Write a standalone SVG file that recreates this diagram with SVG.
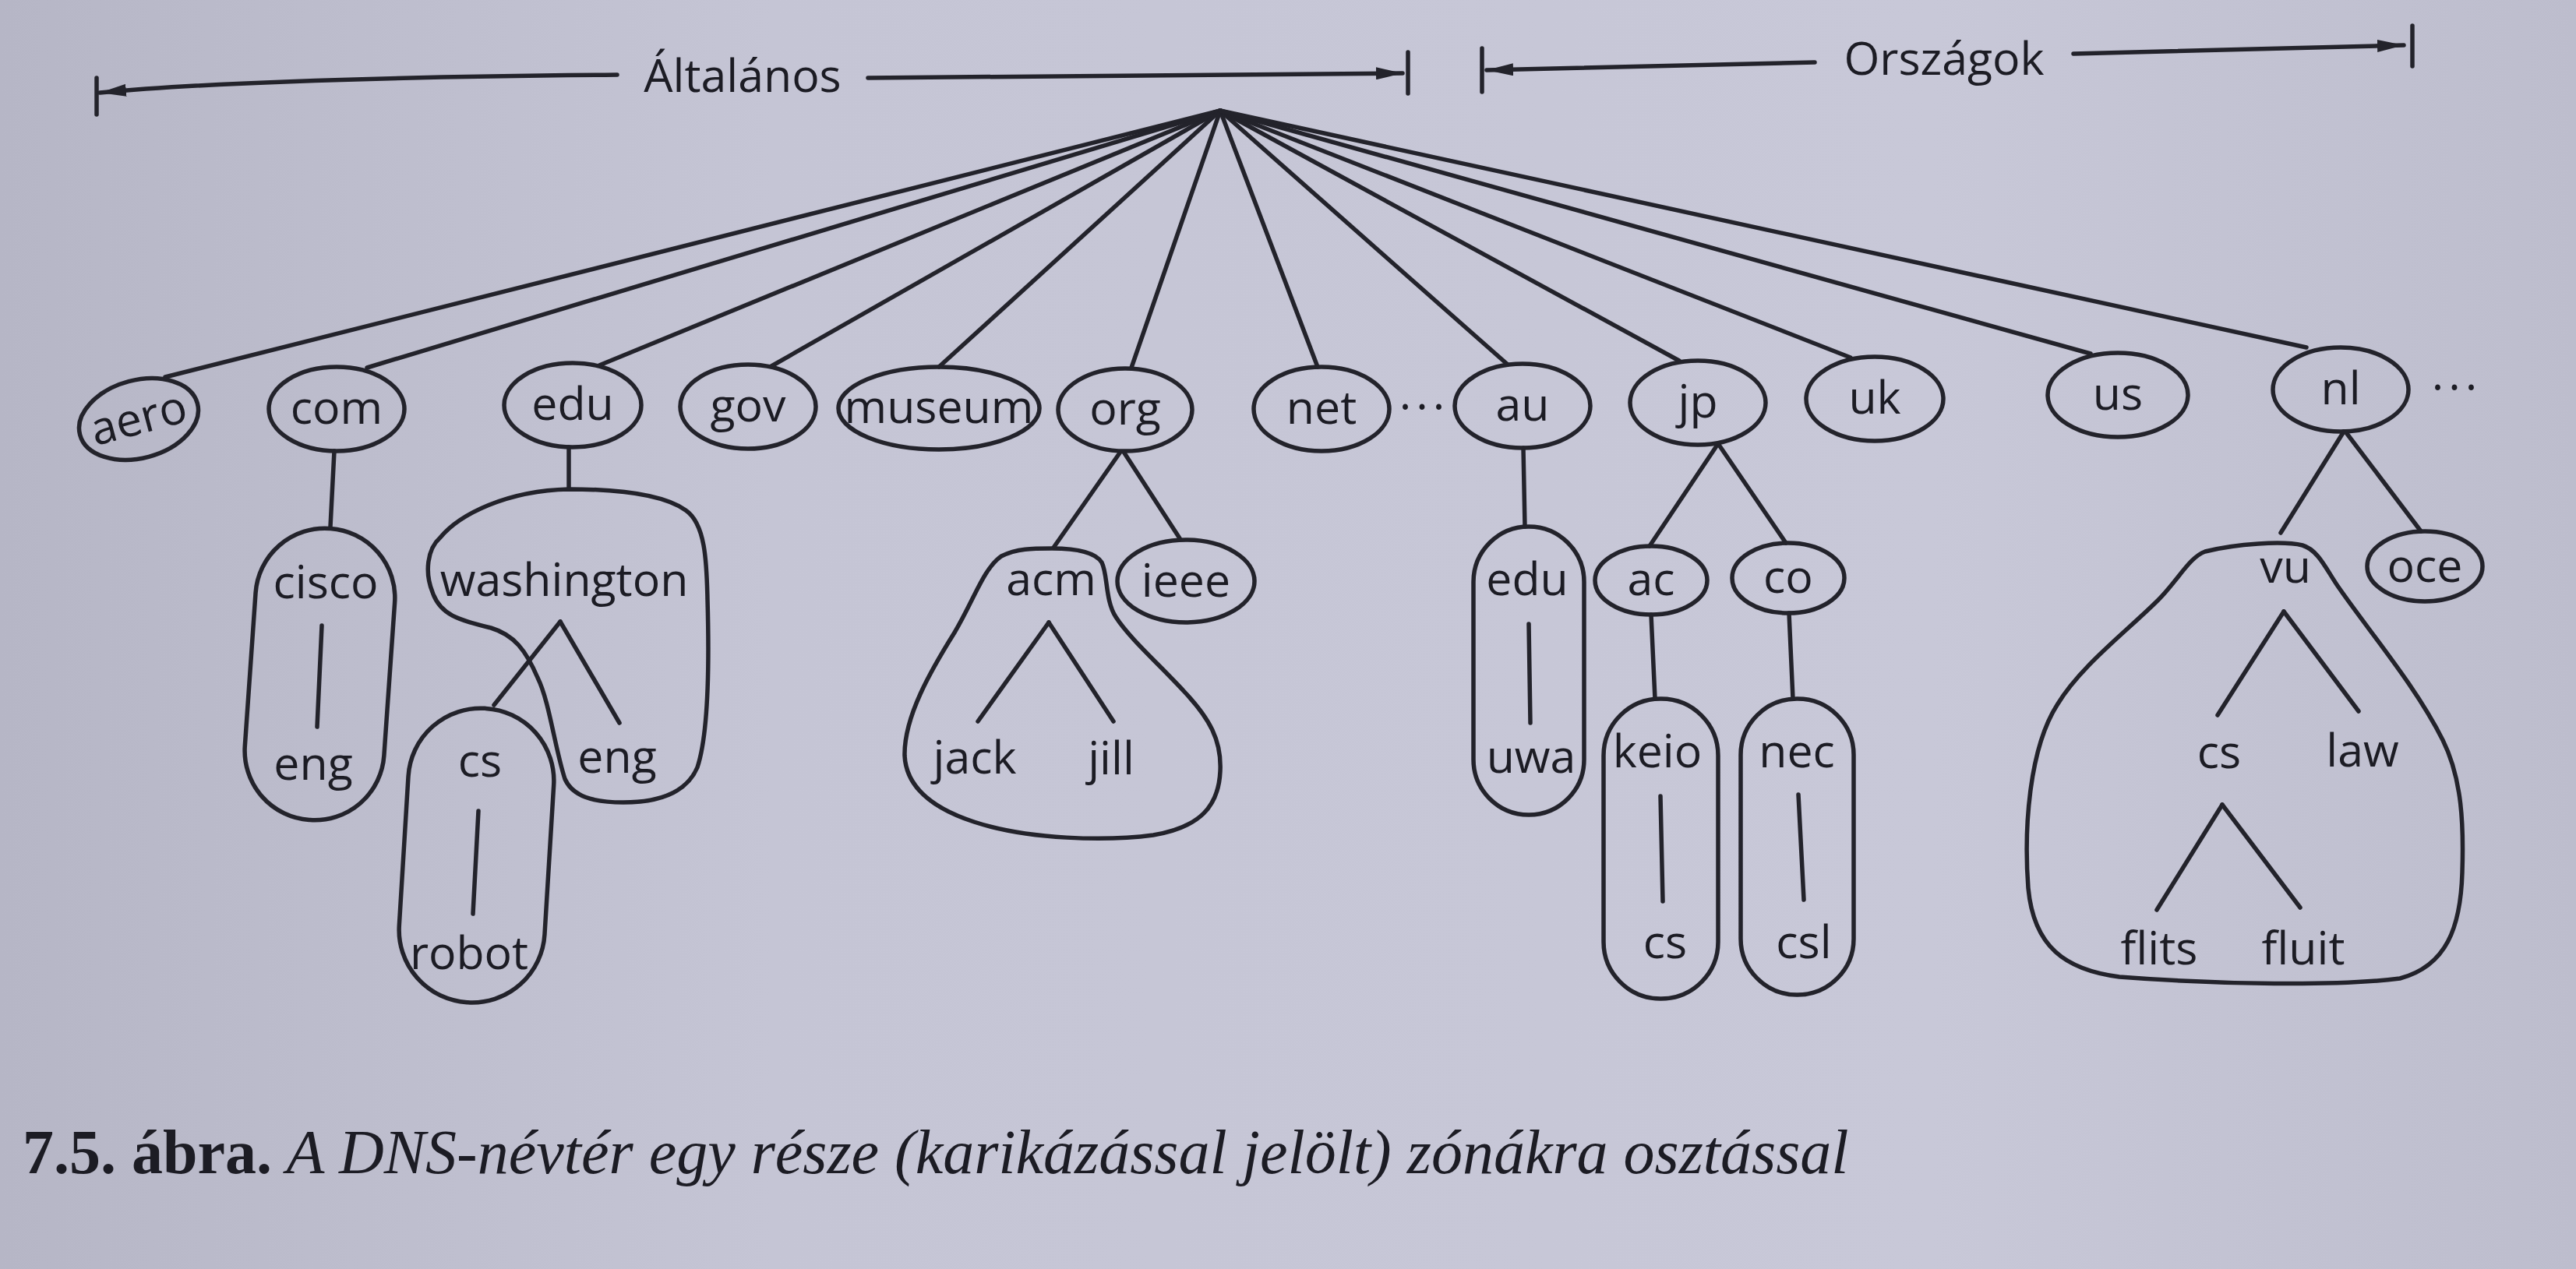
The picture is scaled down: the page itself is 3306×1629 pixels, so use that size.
<svg xmlns="http://www.w3.org/2000/svg" width="3306" height="1629" viewBox="0 0 3306 1629">
<style>
.ln{stroke:#23232b;stroke-width:5.5;fill:none;stroke-linecap:round}
.nd{fill:none;stroke:#23232b;stroke-width:5.5}
.lb{font-family:"Open Sans","Noto Sans","DejaVu Sans",sans-serif;font-size:59px;fill:#1c1c24;text-anchor:middle}
.dots{font-family:"Open Sans","Noto Sans","DejaVu Sans",sans-serif;font-size:59px;fill:#1c1c24;text-anchor:middle;letter-spacing:6px}
.cap{font-family:"Liberation Serif","Times New Roman",serif;font-size:80px;fill:#1c1c24}
</style>
<defs>
<linearGradient id="paper" x1="0" y1="0" x2="1" y2="0">
<stop offset="0" stop-color="#b6b6c6"/>
<stop offset="0.3" stop-color="#c5c5d5"/>
<stop offset="0.75" stop-color="#c8c8d8"/>
<stop offset="1" stop-color="#bdbdcd"/>
</linearGradient>
<marker id="ah" viewBox="0 0 34 16" refX="34" refY="8" markerWidth="34" markerHeight="16" markerUnits="userSpaceOnUse" orient="auto">
<path d="M0,0 L34,8 L0,16 Z" fill="#23232b"/>
</marker>
</defs>
<rect x="0" y="0" width="3306" height="1629" fill="url(#paper)"/>

<g id="header-altalanos">
<line class="ln" x1="124" y1="100" x2="124" y2="147"/>
<path class="ln" d="M 792 96 Q 330 100 128 119" marker-end="url(#ah)"/>
<text class="lb" x="953" y="118">Általános</text>
<line class="ln" x1="1114" y1="100" x2="1800" y2="94" marker-end="url(#ah)"/>
<line class="ln" x1="1807" y1="67" x2="1807" y2="120"/>
</g>
<g id="header-orszagok">
<line class="ln" x1="1902" y1="62" x2="1902" y2="118"/>
<line class="ln" x1="2329" y1="80" x2="1908" y2="90" marker-end="url(#ah)"/>
<text class="lb" x="2495" y="96">Országok</text>
<line class="ln" x1="2661" y1="69" x2="3085" y2="58" marker-end="url(#ah)"/>
<line class="ln" x1="3096" y1="33" x2="3096" y2="85"/>
</g>

<g id="connectors">
<line class="ln" x1="1566" y1="142" x2="212" y2="484"/>
<line class="ln" x1="1566" y1="142" x2="471" y2="472"/>
<line class="ln" x1="1566" y1="142" x2="769" y2="469"/>
<line class="ln" x1="1566" y1="142" x2="990" y2="470"/>
<line class="ln" x1="1566" y1="142" x2="1205" y2="471"/>
<line class="ln" x1="1566" y1="142" x2="1452" y2="472"/>
<line class="ln" x1="1566" y1="142" x2="1691" y2="471"/>
<line class="ln" x1="1566" y1="142" x2="1935" y2="468"/>
<line class="ln" x1="1566" y1="142" x2="2155" y2="463"/>
<line class="ln" x1="1566" y1="142" x2="2375" y2="459"/>
<line class="ln" x1="1566" y1="142" x2="2683" y2="454"/>
<line class="ln" x1="1566" y1="142" x2="2960" y2="446"/>
<line class="ln" x1="429" y1="579" x2="424" y2="676"/>
<line class="ln" x1="413" y1="803" x2="407" y2="933"/>
<line class="ln" x1="730" y1="574" x2="730" y2="628"/>
<line class="ln" x1="719" y1="798" x2="634" y2="905"/>
<line class="ln" x1="719" y1="798" x2="795" y2="928"/>
<line class="ln" x1="614" y1="1041" x2="607" y2="1173"/>
<line class="ln" x1="1438" y1="580" x2="1352" y2="703"/>
<line class="ln" x1="1442" y1="580" x2="1514" y2="691"/>
<line class="ln" x1="1346" y1="799" x2="1255" y2="926"/>
<line class="ln" x1="1346" y1="799" x2="1429" y2="926"/>
<line class="ln" x1="1955" y1="575" x2="1957" y2="676"/>
<line class="ln" x1="1962" y1="801" x2="1964" y2="928"/>
<line class="ln" x1="2204" y1="571" x2="2117" y2="701"/>
<line class="ln" x1="2206" y1="571" x2="2292" y2="697"/>
<line class="ln" x1="2119" y1="789" x2="2124" y2="897"/>
<line class="ln" x1="2296" y1="787" x2="2301" y2="897"/>
<line class="ln" x1="2131" y1="1022" x2="2134" y2="1157"/>
<line class="ln" x1="2308" y1="1020" x2="2315" y2="1155"/>
<line class="ln" x1="3008" y1="554" x2="2927" y2="684"/>
<line class="ln" x1="3010" y1="554" x2="3107" y2="682"/>
<line class="ln" x1="2931" y1="785" x2="2846" y2="918"/>
<line class="ln" x1="2931" y1="785" x2="3027" y2="913"/>
<line class="ln" x1="2852" y1="1033" x2="2768" y2="1168"/>
<line class="ln" x1="2852" y1="1033" x2="2952" y2="1165"/>
</g>

<g id="node-aero" transform="rotate(-15 178 538)">
<ellipse class="nd" cx="178" cy="538" rx="78" ry="50"/>
<text class="lb" x="178" y="557">aero</text>
</g>
<g id="node-com"><ellipse class="nd" cx="432" cy="525" rx="87" ry="54"/><text class="lb" x="432" y="544">com</text></g>
<g id="node-edu"><ellipse class="nd" cx="735" cy="520" rx="88" ry="54"/><text class="lb" x="735" y="539">edu</text></g>
<g id="node-gov"><ellipse class="nd" cx="960" cy="522" rx="87" ry="54"/><text class="lb" x="960" y="541">gov</text></g>
<g id="node-museum"><ellipse class="nd" cx="1205" cy="524" rx="129" ry="53"/><text class="lb" x="1205" y="543">museum</text></g>
<g id="node-org"><ellipse class="nd" cx="1444" cy="526" rx="86" ry="53"/><text class="lb" x="1444" y="545">org</text></g>
<g id="node-net"><ellipse class="nd" cx="1696" cy="525" rx="87" ry="54"/><text class="lb" x="1696" y="544">net</text></g>
<g id="dots-1"><text class="dots" x="1828" y="543">···</text></g>
<g id="node-au"><ellipse class="nd" cx="1954" cy="521" rx="87" ry="54"/><text class="lb" x="1954" y="540">au</text></g>
<g id="node-jp"><ellipse class="nd" cx="2179" cy="517" rx="87" ry="54"/><text class="lb" x="2179" y="536">jp</text></g>
<g id="node-uk"><ellipse class="nd" cx="2406" cy="512" rx="88" ry="54"/><text class="lb" x="2406" y="531">uk</text></g>
<g id="node-us"><ellipse class="nd" cx="2718" cy="507" rx="90" ry="54"/><text class="lb" x="2718" y="526">us</text></g>
<g id="node-nl"><ellipse class="nd" cx="3004" cy="500" rx="87" ry="54"/><text class="lb" x="3004" y="519">nl</text></g>
<g id="dots-2"><text class="dots" x="3153" y="518">···</text></g>

<g id="zone-cisco"><rect class="nd" x="321" y="678" width="179" height="375" rx="89" ry="89" transform="rotate(4 410 865)"/></g>
<g id="node-cisco"><text class="lb" x="418" y="768">cisco</text></g>
<g id="node-cisco-eng"><text class="lb" x="402" y="1001">eng</text></g>

<g id="zone-washington"><path class="nd" d="M 730 628 C 790 628, 850 634, 880 655 C 905 672, 907 720, 908 770 C 910 840, 910 940, 895 985 C 880 1020, 840 1030, 800 1030 C 760 1030, 735 1022, 725 1000 C 712 960, 705 900, 690 870 C 675 835, 660 815, 630 806 C 590 796, 565 790, 555 760 C 545 735, 548 705, 565 690 C 590 660, 650 630, 730 628 Z"/></g>
<g id="node-washington"><text class="lb" x="724" y="765">washington</text></g>
<g id="node-washington-eng"><text class="lb" x="792" y="992">eng</text></g>
<g id="zone-cs"><rect class="nd" x="518" y="909" width="187" height="378" rx="93" ry="93" transform="rotate(3.5 611 1098)"/></g>
<g id="node-washington-cs"><text class="lb" x="616" y="997">cs</text></g>
<g id="node-robot"><text class="lb" x="602" y="1244">robot</text></g>

<g id="zone-acm"><path class="nd" d="M 1350 704 C 1380 704, 1405 708, 1414 722 C 1422 738, 1418 770, 1432 792 C 1450 820, 1490 855, 1520 888 C 1552 922, 1568 950, 1566 990 C 1564 1035, 1540 1062, 1480 1072 C 1420 1080, 1320 1078, 1250 1055 C 1195 1037, 1163 1010, 1161 970 C 1160 920, 1195 860, 1225 812 C 1250 770, 1262 730, 1285 714 C 1305 704, 1325 704, 1350 704 Z"/></g>
<g id="node-acm"><text class="lb" x="1349" y="764">acm</text></g>
<g id="node-ieee"><ellipse class="nd" cx="1522" cy="746" rx="88" ry="53"/><text class="lb" x="1522" y="766">ieee</text></g>
<g id="node-jack"><text class="lb" x="1251" y="993">jack</text></g>
<g id="node-jill"><text class="lb" x="1426" y="994">jill</text></g>

<g id="zone-au-edu"><rect class="nd" x="1891" y="676" width="142" height="370" rx="71" ry="71"/></g>
<g id="node-au-edu"><text class="lb" x="1960" y="764">edu</text></g>
<g id="node-uwa"><text class="lb" x="1965" y="992">uwa</text></g>

<g id="node-ac"><ellipse class="nd" cx="2119" cy="745" rx="72" ry="44"/><text class="lb" x="2119" y="764">ac</text></g>
<g id="node-co"><ellipse class="nd" cx="2295" cy="742" rx="72" ry="45"/><text class="lb" x="2295" y="761">co</text></g>
<g id="zone-keio"><rect class="nd" x="2058" y="897" width="147" height="385" rx="73" ry="73"/></g>
<g id="node-keio"><text class="lb" x="2127" y="985">keio</text></g>
<g id="node-keio-cs"><text class="lb" x="2137" y="1230">cs</text></g>
<g id="zone-nec"><rect class="nd" x="2234" y="897" width="145" height="380" rx="72" ry="72"/></g>
<g id="node-nec"><text class="lb" x="2306" y="985">nec</text></g>
<g id="node-csl"><text class="lb" x="2315" y="1230">csl</text></g>

<g id="zone-vu"><path class="nd" d="M 2830 708 C 2870 698, 2930 694, 2955 700 C 2975 706, 2985 730, 3000 752 C 3040 810, 3100 880, 3135 950 C 3160 1000, 3162 1060, 3160 1120 C 3158 1190, 3140 1240, 3080 1256 C 3000 1266, 2850 1264, 2720 1254 C 2650 1245, 2610 1215, 2603 1140 C 2597 1060, 2605 960, 2640 905 C 2670 855, 2730 810, 2770 770 C 2795 745, 2810 715, 2830 708 Z"/></g>
<g id="node-vu"><text class="lb" x="2933" y="748">vu</text></g>
<g id="node-oce"><ellipse class="nd" cx="3112" cy="727" rx="74" ry="45"/><text class="lb" x="3112" y="747">oce</text></g>
<g id="node-vu-cs"><text class="lb" x="2848" y="986">cs</text></g>
<g id="node-law"><text class="lb" x="3032" y="984">law</text></g>
<g id="node-flits"><text class="lb" x="2771" y="1238">flits</text></g>
<g id="node-fluit"><text class="lb" x="2956" y="1238">fluit</text></g>

<g id="caption">
<text class="cap" x="29" y="1506"><tspan font-weight="bold">7.5. ábra.</tspan><tspan font-style="italic"> A DNS-névtér egy része (karikázással jelölt) zónákra osztással</tspan></text>
</g>
</svg>
